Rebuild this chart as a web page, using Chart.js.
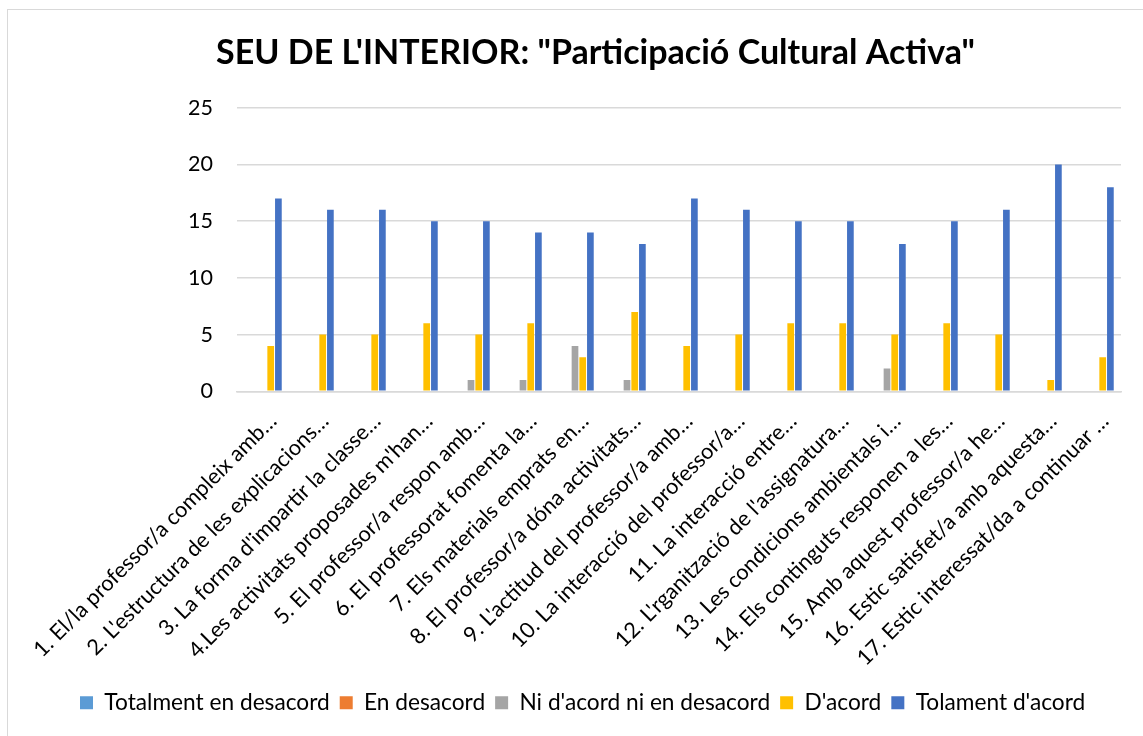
<!DOCTYPE html>
<html>
<head>
<meta charset="utf-8">
<script src="https://cdn.jsdelivr.net/npm/chart.js@4.4.0/dist/chart.umd.min.js"></script>
<style>
  html, body { margin: 0; padding: 0; background: #fff; }
  .wrap { position: relative; width: 1143px; height: 736px; overflow: hidden; }
  .frame { position: absolute; left: 7px; top: 9px; width: 1160px; height: 760px; border: 1px solid #d9d9d9; }
  canvas { position: absolute; left: 0; top: 0; }
</style>
</head>
<body>
<div class="wrap">
  <div class="frame"></div>
  <canvas id="grafic" width="1143" height="736"></canvas>
</div>
<script>
// Preguntes (etiquetes de l'eix X, tal com surten retallades)
const preguntes = [
    "1. El/la professor/a compleix amb…",
    "2. L'estructura de les explicacions…",
    "3. La forma d'impartir la classe…",
    "4.Les activitats proposades m'han…",
    "5. El professor/a respon amb…",
    "6. El professorat fomenta la…",
    "7. Els materials emprats en…",
    "8. El professor/a dóna activitats…",
    "9. L'actitud del professor/a amb…",
    "10. La interacció del professor/a…",
    "11. La interacció entre…",
    "12. L'rganització de l'assignatura…",
    "13. Les condicions ambientals i…",
    "14. Els continguts responen a les…",
    "15. Amb aquest professor/a he…",
    "16. Estic satisfet/a amb aquesta…",
    "17. Estic interessat/da a continuar …"
];

// Respostes per categoria
const totalmentDesacord = [0, 0, 0, 0, 0, 0, 0, 0, 0, 0, 0, 0, 0, 0, 0, 0, 0];
const enDesacord        = [0, 0, 0, 0, 0, 0, 0, 0, 0, 0, 0, 0, 0, 0, 0, 0, 0];
const niAcordNiDesacord = [0, 0, 0, 0, 1, 1, 4, 1, 0, 0, 0, 0, 2, 0, 0, 0, 0];
const dAcord            = [4, 5, 5, 6, 5, 6, 3, 7, 4, 5, 6, 6, 5, 6, 5, 1, 3];
const tolamentAcord     = [17, 16, 16, 15, 15, 14, 14, 13, 17, 16, 15, 15, 13, 15, 16, 20, 18];

const ticksY = [0, 5, 10, 15, 20, 25];

const font = "Lato, 'Open Sans', sans-serif";
const textColor = "#000000";

function serie(nom, dades, color) {
    return {
        label: nom,
        data: dades,
        backgroundColor: color,
        borderWidth: 0,
        categoryPercentage: 0.74,
        barPercentage: 0.87
    };
}

const ctx = document.getElementById("grafic").getContext("2d");
const grafic = new Chart(ctx, {
    type: "bar",
    data: {
        labels: preguntes,
        datasets: [
            serie("Totalment en desacord", totalmentDesacord, "#5B9BD5"),
            serie("En desacord", enDesacord, "#ED7D31"),
            serie("Ni d'acord ni en desacord", niAcordNiDesacord, "#A5A5A5"),
            serie("D'acord", dAcord, "#FFC000"),
            serie("Tolament d'acord", tolamentAcord, "#4472C4")
        ]
    },
    options: {
        responsive: false,
        animation: false,
        devicePixelRatio: 1,
        layout: { padding: { left: 70, right: 22, top: 0, bottom: 12 } },
        plugins: {
            title: {
                display: true,
                text: "SEU DE L'INTERIOR: \"Participació Cultural Activa\"",
                color: textColor,
                font: { family: font, size: 34, weight: "bold" },
                padding: { top: 33, bottom: 34 }
            },
            legend: {
                position: "bottom",
                align: "start",
                labels: {
                    color: textColor,
                    font: { family: font, size: 22.7 },
                    boxWidth: 13,
                    boxHeight: 13,
                    padding: 10
                }
            },
            tooltip: { enabled: false }
        },
        scales: {
            x: {
                grid: { display: false, drawTicks: false },
                border: { display: true, color: "#d9d9d9", width: 1.5 },
                ticks: {
                    color: textColor,
                    font: { family: font, size: 21.7 },
                    minRotation: 45,
                    maxRotation: 45,
                    autoSkip: false,
                    padding: 17,
                    labelOffset: 10
                },
                afterFit: function (escala) {
                    escala.height = 290;
                    escala.paddingLeft = 0;
                    escala.paddingRight = 0;
                }
            },
            y: {
                min: 0,
                max: 25,
                afterBuildTicks: function (escala) {
                    escala.ticks = ticksY.map(function (v) { return { value: v }; });
                },
                grid: { color: "#d9d9d9", lineWidth: 1.5, drawTicks: false },
                border: { display: false },
                ticks: {
                    color: textColor,
                    font: { family: font, size: 21.5 },
                    padding: 24
                },
                afterFit: function (escala) { escala.width = 167; }
            }
        }
    }
});
</script>
</body>
</html>
